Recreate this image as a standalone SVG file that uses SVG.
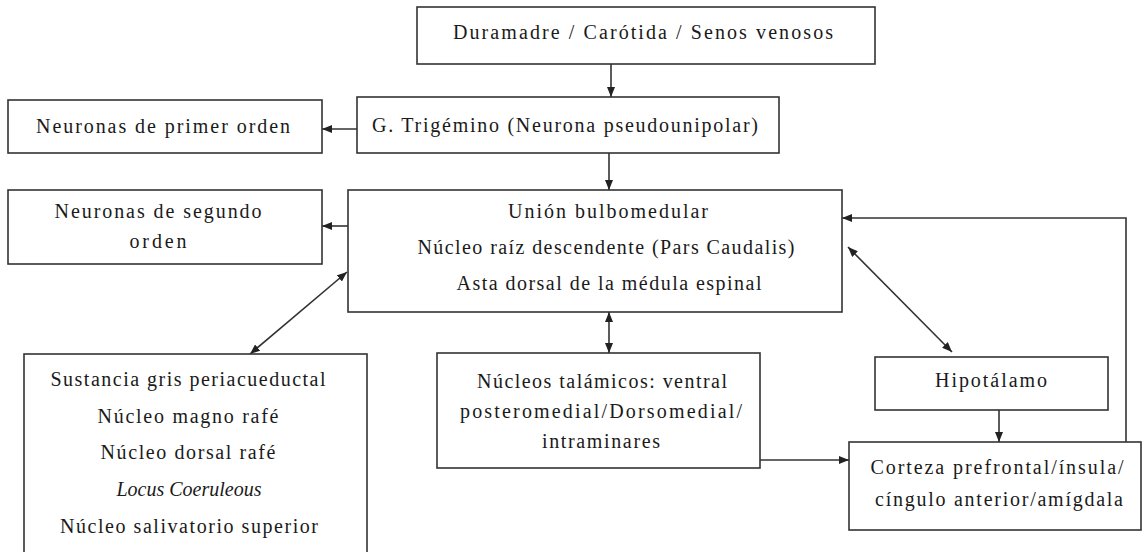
<svg xmlns="http://www.w3.org/2000/svg" width="1143" height="552" viewBox="0 0 1143 552">
<defs>
<style>
.box{fill:#fff;stroke:#333;stroke-width:1.6}
.t{font-family:"Liberation Serif","Times New Roman",serif;font-size:20px;fill:#1a1a1a;text-anchor:middle}
.it{font-style:italic}
.c{fill:none;stroke:#333;stroke-width:1.6}
</style>
<marker id="ah" viewBox="0 0 10 8" refX="10" refY="4" markerWidth="10" markerHeight="8" markerUnits="userSpaceOnUse" orient="auto-start-reverse">
<path d="M0,0 L10,4 L0,8 z" fill="#222"/>
</marker>
</defs>
<rect width="1143" height="552" fill="#fff"/>
<g id="connectors">
<line class="c" x1="611" y1="64" x2="611" y2="97" marker-end="url(#ah)"/>
<line class="c" x1="357" y1="129" x2="322" y2="129" marker-end="url(#ah)"/>
<line class="c" x1="609" y1="153" x2="609" y2="190" marker-end="url(#ah)"/>
<line class="c" x1="348" y1="226" x2="322" y2="226" marker-end="url(#ah)"/>
<line class="c" x1="347" y1="272" x2="250" y2="354" marker-start="url(#ah)" marker-end="url(#ah)"/>
<line class="c" x1="609" y1="312" x2="609" y2="353" marker-start="url(#ah)" marker-end="url(#ah)"/>
<line class="c" x1="848" y1="247" x2="952" y2="352" marker-start="url(#ah)" marker-end="url(#ah)"/>
<line class="c" x1="999" y1="410" x2="999" y2="442" marker-end="url(#ah)"/>
<line class="c" x1="760" y1="460" x2="849" y2="460" marker-end="url(#ah)"/>
<polyline class="c" points="1126,442 1126,218 842,218" marker-end="url(#ah)"/>
</g>
<g id="duramadre">
<rect class="box" x="417" y="7" width="458" height="57"/>
<text class="t" x="643" y="39" textLength="380" lengthAdjust="spacing">Duramadre / Carótida / Senos venosos</text>
</g>
<g id="trigemino">
<rect class="box" x="357" y="97" width="422" height="56"/>
<text class="t" x="565" y="132" textLength="386" lengthAdjust="spacing">G. Trigémino (Neurona pseudounipolar)</text>
</g>
<g id="primer-orden">
<rect class="box" x="8" y="100" width="314" height="53"/>
<text class="t" x="163" y="133" textLength="254" lengthAdjust="spacing">Neuronas de primer orden</text>
</g>
<g id="segundo-orden">
<rect class="box" x="8" y="190" width="314" height="74"/>
<text class="t" x="158" y="218" textLength="207" lengthAdjust="spacing">Neuronas de segundo</text>
<text class="t" x="158" y="248" textLength="57" lengthAdjust="spacing">orden</text>
</g>
<g id="union">
<rect class="box" x="348" y="190" width="494" height="122"/>
<text class="t" x="608" y="218" textLength="200" lengthAdjust="spacing">Unión bulbomedular</text>
<text class="t" x="606" y="254" textLength="377" lengthAdjust="spacing">Núcleo raíz descendente (Pars Caudalis)</text>
<text class="t" x="609" y="290" textLength="305" lengthAdjust="spacing">Asta dorsal de la médula espinal</text>
</g>
<g id="sustancia">
<rect class="box" x="24" y="354" width="343" height="210"/>
<text class="t" x="188" y="386" textLength="275" lengthAdjust="spacing">Sustancia gris periacueductal</text>
<text class="t" x="188" y="423" textLength="181" lengthAdjust="spacing">Núcleo magno rafé</text>
<text class="t" x="188" y="459" textLength="175" lengthAdjust="spacing">Núcleo dorsal rafé</text>
<text class="t it" x="189" y="496" textLength="145" lengthAdjust="spacing">Locus Coeruleous</text>
<text class="t" x="189" y="533" textLength="258" lengthAdjust="spacing">Núcleo salivatorio superior</text>
</g>
<g id="talamicos">
<rect class="box" x="437" y="353" width="323" height="115"/>
<text class="t" x="602" y="388" textLength="250" lengthAdjust="spacing">Núcleos talámicos: ventral</text>
<text class="t" x="601" y="418" textLength="282" lengthAdjust="spacing">posteromedial/Dorsomedial/</text>
<text class="t" x="601" y="448" textLength="118" lengthAdjust="spacing">intraminares</text>
</g>
<g id="hipotalamo">
<rect class="box" x="875" y="357" width="233" height="53"/>
<text class="t" x="991" y="387" textLength="112" lengthAdjust="spacing">Hipotálamo</text>
</g>
<g id="corteza">
<rect class="box" x="849" y="442" width="292" height="88"/>
<text class="t" x="997" y="474" textLength="253" lengthAdjust="spacing">Corteza prefrontal/ínsula/</text>
<text class="t" x="999" y="506" textLength="248" lengthAdjust="spacing">cíngulo anterior/amígdala</text>
</g>
</svg>
